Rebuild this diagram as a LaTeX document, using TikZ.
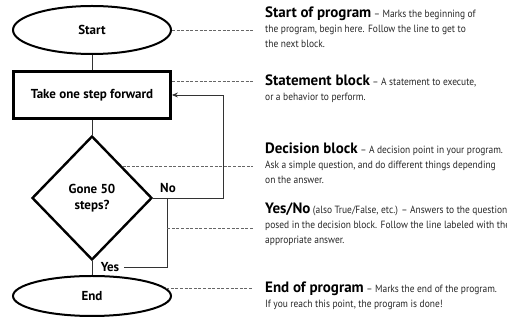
\documentclass[tikz,border=0pt]{standalone}
\usepackage{fontspec}
\setmainfont{PT Sans}
\newfontfamily\bodyfont{PT Sans}[FakeStretch=0.9]
\usetikzlibrary{shapes.geometric,arrows.meta,calc}

\newcommand\heading[1]{{\rmfamily\fontsize{15}{15}\selectfont\bfseries\color{black}#1}}

\begin{document}
\begin{tikzpicture}[x=1pt,y=-1pt,
  block/.style={draw=black,font=\fontsize{13}{16}\selectfont\bfseries,align=center,inner sep=0pt},
  flow/.style={draw=black!80,line width=.9pt},
  note/.style={draw=black!60,line width=.8pt,dash pattern=on 3pt off 1.6pt},
  desc/.style={anchor=base west,align=left,inner sep=0pt,font=\bodyfont\fontsize{10.5}{15}\selectfont,text=black!85},
  answer/.style={font=\fontsize{13}{14}\selectfont\bfseries,inner sep=1pt}]
\useasboundingbox (0,0) rectangle (507,328);
% -- define nodes
\node[block,ellipse,line width=2pt,minimum width=158pt,minimum height=48pt] (start) at (92,30) {Start};
\node[block,rectangle,line width=2.8pt,minimum width=157pt,minimum height=47pt] (fwd) at (92,95) {Take one step forward};
\node[block,diamond,aspect=1,line width=2.4pt,minimum width=120pt,minimum height=124pt] (decide) at (92,198) {Gone 50\\steps?};
\node[block,ellipse,line width=2pt,minimum width=158pt,minimum height=40pt] (end) at (92,296) {End};
\node[answer] (no) at (168,188) {No};
\node[answer] (yes) at (110,267) {Yes};
\coordinate (col) at (253,0);
\coordinate (brk) at ($(decide.east)+(14,0)$);
\coordinate (yn) at ($(brk)+(0,30)$);
% -- draw flow lines
\draw[flow] (start) -- (fwd);
\draw[flow] (fwd) -- (decide);
\draw[flow] (decide) -- (end);
\draw[flow,-{Stealth[length=6pt,width=5pt]}] (decide.east) -- ++(70.5,0) |- (fwd.east);
\draw[flow] (brk) |- ([xshift=4pt]yes.east);
% -- draw notes
\draw[note] (start.east) -- (start.east -| col);
\draw[note] ([yshift=14pt]fwd.east) -- ([yshift=14pt]fwd.east -| col);
\draw[note] (decide.north east) -- (decide.north east -| col);
\draw[note] (yn) -- (yn -| col);
\draw[note] (end.6) -- (end.6 -| col);
% -- base anchor sits on the last line
\node[desc] (d1) at (265,48) {\heading{Start of program} – Marks the beginning of\\the program, begin here. Follow the line to get to\\the next block.};
\node[desc] (d2) at (265,101) {\heading{Statement block} – A statement to execute,\\or a behavior to perform.};
\node[desc] (d3) at (265,184) {\heading{Decision block} – A decision point in your program.\\Ask a simple question, and do different things depending\\on the answer.};
\node[desc] (d4) at (265,244) {\heading{Yes/No} (also True/False, etc.) – Answers to the question\\posed in the decision block. Follow the line labeled with the\\appropriate answer.};
\node[desc] (d5) at (265,308) {\heading{End of program} – Marks the end of the program.\\If you reach this point, the program is done!};
\end{tikzpicture}
\end{document}
